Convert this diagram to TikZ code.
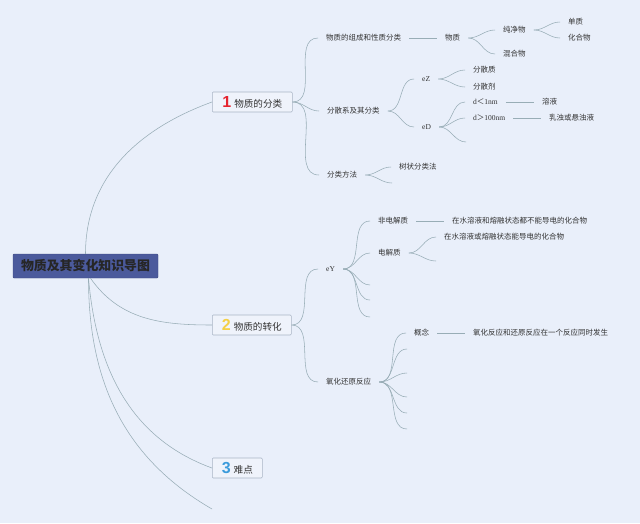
\documentclass[tikz,border=0pt]{standalone}
\usepackage{fontspec}
\setmainfont{Noto Sans CJK SC}
\newfontfamily\romfont{Liberation Serif}
\newfontfamily\digfont{Liberation Sans}
\usetikzlibrary{positioning}
\definecolor{mapBg}{HTML}{E9EFFA}
\definecolor{mapLine}{HTML}{98ADB6}
\definecolor{mapRoot}{HTML}{4B5A9C}
\definecolor{mapBox}{HTML}{EFF3FB}
\definecolor{mapFrame}{HTML}{A9B5C5}
\definecolor{mapText}{HTML}{333333}
\definecolor{numRed}{HTML}{E5242F}
\definecolor{numYellow}{HTML}{F4D046}
\definecolor{numBlue}{HTML}{3B9BDB}
\tikzset{
  root/.style={draw=mapRoot!80!black, fill=mapRoot, rounded corners=1pt,
              minimum width=145pt, minimum height=24pt, inner sep=0pt,
              font=\fontsize{12.9}{13}\selectfont\bfseries, text=black!85},
  topic/.style={draw=mapFrame, fill=mapBox, rounded corners=1pt, line width=0.6pt,
              minimum height=20pt, inner sep=0pt, anchor=west,
              font=\fontsize{9.6}{10}\selectfont, text=mapText},
  item/.style={anchor=west, inner xsep=8pt, inner ysep=1pt,
              font=\fontsize{7.5}{8}\selectfont, text=mapText},
  branch/.style={draw=mapLine, line width=0.55pt},
}
\newcommand{\tnum}[2]{{\digfont\bfseries\fontsize{16}{16}\selectfont\color{#1}#2}\hspace{3pt}}
\newcommand{\rom}[1]{{\romfont #1}}

\begin{document}
\begin{tikzpicture}[x=1pt,y=-1pt]
  \fill[mapBg] (0,0) rectangle (640,523);
  \node[root] (root) at (85.5,266) {物质及其变化知识导图};
  \node[topic,minimum width=80pt] (cls) at (212,102) {\tnum{numRed}{1}物质的分类};
  \node[topic,minimum width=79pt] (trans) at (212,325) {\tnum{numYellow}{2}物质的转化};
  \node[topic,minimum width=50pt] (hard) at (212,468) {\tnum{numBlue}{3}难点};
  \coordinate (more) at (212,509);
  \draw[branch] (root.north) to[out=90,in=200] (cls.west);
  \draw[branch] ([xshift=5pt]root.south) to[out=-55,in=180] (trans.west);
  \draw[branch] ([xshift=3pt]root.south) to[out=-85,in=160] (hard.west);
  \draw[branch] ([xshift=3pt]root.south) to[out=-90,in=150] (more);

  % 1 物质的分类
  \node[item] (comp) at (318,38) {物质的组成和性质分类};
  \node[item] (disp) at (319,111) {分散系及其分类};
  \node[item] (meth) at (319,175) {分类方法};
  \foreach \n in {comp,disp,meth}{\draw[branch] (cls.east) to[out=0,in=180] (\n.west);}
  \node[item] (matt) at (437,38) {物质};
  \draw[branch] (comp) -- (matt);
  \node[item] (pure) at (495,30) {纯净物};
  \node[item] (mix) at (495,54) {混合物};
  \foreach \n in {pure,mix}{\draw[branch] (matt.east) to[out=0,in=180] (\n.west);}
  \node[item] (elem) at (560,22) {单质};
  \node[item] (cpd) at (560,38) {化合物};
  \foreach \n in {elem,cpd}{\draw[branch] (pure.east) to[out=0,in=180] (\n.west);}
  \node[item] (ez) at (414,79) {\rom{eZ}};
  \node[item] (ed) at (414,127) {\rom{eD}};
  \foreach \n in {ez,ed}{\draw[branch] (disp.east) to[out=0,in=180] (\n.west);}
  \node[item] (solu) at (465,70) {分散质};
  \node[item] (solv) at (465,87) {分散剂};
  \foreach \n in {solu,solv}{\draw[branch] (ez.east) to[out=0,in=180] (\n.west);}
  \node[item] (small) at (465,102) {\rom{d}＜\rom{1nm}};
  \node[item] (big) at (465,118) {\rom{d}＞\rom{100nm}};
  \coordinate (edx) at (466,142);
  \foreach \n in {small,big,edx}{\draw[branch] (ed.east) to[out=0,in=180] (\n);}
  \node[item] (sol) at (534,102) {溶液};
  \node[item] (emul) at (541,118) {乳浊或悬浊液};
  \draw[branch] (small) -- (sol);
  \draw[branch] (big) -- (emul);
  \node[item] (tree) at (391,167) {树状分类法};
  \coordinate (methx) at (392,183);
  \foreach \n in {tree,methx}{\draw[branch] (meth.east) to[out=0,in=180] (\n);}

  % 2 物质的转化
  \node[item] (ey) at (318,269) {\rom{eY}};
  \node[item] (redox) at (318,382) {氧化还原反应};
  \foreach \n in {ey,redox}{\draw[branch] (trans.east) to[out=0,in=180] (\n.west);}
  \node[item] (nonel) at (370,221) {非电解质};
  \node[item] (elec) at (370,253) {电解质};
  \foreach \n in {nonel,elec}{\draw[branch] (ey.east) to[out=0,in=180] (\n.west);}
  \foreach \y [count=\i] in {285,300,317}{
    \coordinate (eyx\i) at (370,\y);
    \draw[branch] (ey.east) to[out=0,in=180] (eyx\i);
  }
  \node[item] (nondef) at (444,221) {在水溶液和熔融状态都不能导电的化合物};
  \draw[branch] (nonel) -- (nondef);
  \node[item] (eldef) at (436,237) {在水溶液或熔融状态能导电的化合物};
  \coordinate (elecx) at (436,261);
  \foreach \n in {eldef,elecx}{\draw[branch] (elec.east) to[out=0,in=180] (\n);}
  \node[item] (idea) at (406,333) {概念};
  \draw[branch] (redox.east) to[out=0,in=180] (idea.west);
  \foreach \y [count=\i] in {349,373,397,413,429}{
    \coordinate (rx\i) at (407,\y);
    \draw[branch] (redox.east) to[out=0,in=180] (rx\i);
  }
  \node[item] (ideadef) at (465,333) {氧化反应和还原反应在一个反应同时发生};
  \draw[branch] (idea) -- (ideadef);
\end{tikzpicture}
\end{document}
